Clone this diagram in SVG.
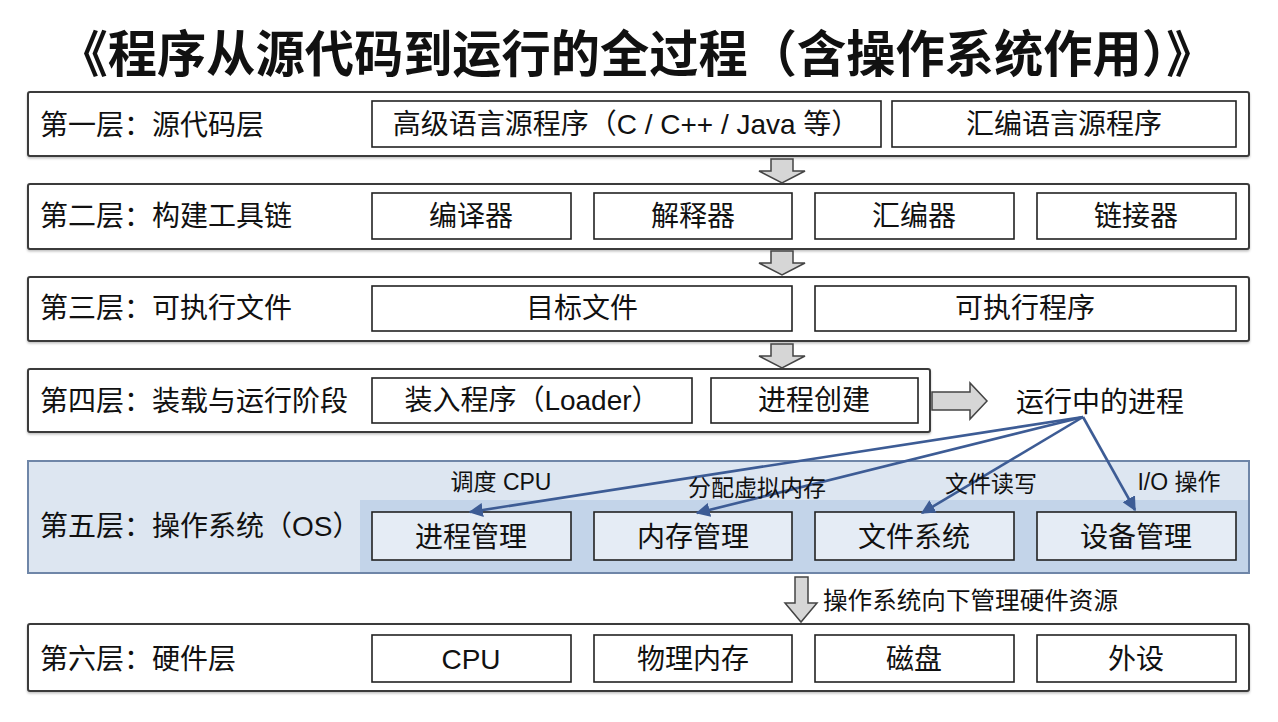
<svg xmlns="http://www.w3.org/2000/svg" width="1278" height="722" viewBox="0 0 1278 722">
<defs>
<style>
text{font-family:"Liberation Sans","Noto Sans CJK SC",sans-serif;fill:#111;dominant-baseline:central}
.title{font-size:50px;font-weight:bold;text-anchor:middle}
.lbl{font-size:28px}
.box{font-size:28px;text-anchor:middle}
.sm{font-size:23px;text-anchor:middle}
.layer{fill:#fff;stroke:#3a3a3a;stroke-width:2}
.ib{fill:#fff;stroke:#222;stroke-width:1.6}
.osb{fill:#e5ecf5;stroke:#222;stroke-width:1.6}
.blk{fill:#d6d6d6;stroke:#444;stroke-width:1.5;stroke-linejoin:miter}
.conn{fill:none;stroke:#3d5c95;stroke-width:2.6}
</style>
<marker id="ah" viewBox="0 0 10 10" refX="9" refY="5" markerWidth="5.5" markerHeight="5.5" orient="auto" markerUnits="strokeWidth">
<path d="M0,0 L10,5 L0,10 Z" fill="#3d5c95"/>
</marker>
<filter id="sh" x="-2%" y="-10%" width="104%" height="130%">
<feDropShadow dx="0" dy="1.5" stdDeviation="1.2" flood-color="#000" flood-opacity="0.25"/>
</filter>
</defs>
<rect width="1278" height="722" fill="#fff"/>
<text class="title" x="637" y="55" textLength="1157" lengthAdjust="spacingAndGlyphs">《程序从源代码到运行的全过程（含操作系统作用）》</text>

<g id="layer1">
<rect class="layer" x="28" y="92" width="1221" height="64" rx="2" filter="url(#sh)"/>
<text class="lbl" x="40" y="125">第一层：源代码层</text>
<g id="hll"><rect class="ib" x="372" y="101" width="509" height="46"/><text class="box" x="626" y="124">高级语言源程序（C / C++ / Java 等）</text></g>
<g id="asm"><rect class="ib" x="892" y="101" width="344" height="46"/><text class="box" x="1064" y="124">汇编语言源程序</text></g>
</g>

<g id="layer2">
<rect class="layer" x="28" y="184" width="1221" height="65" rx="2" filter="url(#sh)"/>
<text class="lbl" x="40" y="216">第二层：构建工具链</text>
<g id="compiler"><rect class="ib" x="372" y="193" width="199" height="46"/><text class="box" x="471" y="216">编译器</text></g>
<g id="interpreter"><rect class="ib" x="594" y="193" width="198" height="46"/><text class="box" x="693" y="216">解释器</text></g>
<g id="assembler"><rect class="ib" x="815" y="193" width="199" height="46"/><text class="box" x="914" y="216">汇编器</text></g>
<g id="linker"><rect class="ib" x="1037" y="193" width="199" height="46"/><text class="box" x="1136" y="216">链接器</text></g>
</g>

<g id="layer3">
<rect class="layer" x="28" y="277" width="1221" height="64" rx="2" filter="url(#sh)"/>
<text class="lbl" x="40" y="308">第三层：可执行文件</text>
<g id="obj"><rect class="ib" x="372" y="286" width="420" height="45"/><text class="box" x="582" y="308">目标文件</text></g>
<g id="exe"><rect class="ib" x="815" y="286" width="421" height="45"/><text class="box" x="1025" y="308">可执行程序</text></g>
</g>

<g id="layer4">
<rect class="layer" x="28" y="369" width="902" height="63" rx="2" filter="url(#sh)"/>
<text class="lbl" x="40" y="401">第四层：装载与运行阶段</text>
<g id="loader"><rect class="ib" x="372" y="378" width="320" height="45"/><text class="box" x="532" y="400">装入程序（Loader）</text></g>
<g id="create"><rect class="ib" x="711" y="378" width="207" height="45"/><text class="box" x="814" y="400">进程创建</text></g>
</g>

<g id="running">
<text class="box" x="1100" y="402">运行中的进程</text>
</g>

<g id="layer5">
<rect x="28" y="461" width="1221" height="112" fill="#dde6f1" stroke="#6f86a8" stroke-width="2"/>
<rect x="360" y="500" width="888" height="72" fill="#c3d4e9"/>
<text class="lbl" x="40" y="526">第五层：操作系统（OS）</text>
<g id="pm"><rect class="osb" x="372" y="512" width="199" height="48"/><text class="box" x="471" y="537">进程管理</text></g>
<g id="mm"><rect class="osb" x="594" y="512" width="198" height="48"/><text class="box" x="693" y="537">内存管理</text></g>
<g id="fs"><rect class="osb" x="815" y="512" width="199" height="48"/><text class="box" x="914" y="537">文件系统</text></g>
<g id="dm"><rect class="osb" x="1037" y="512" width="199" height="48"/><text class="box" x="1136" y="537">设备管理</text></g>
</g>

<g id="layer6">
<rect class="layer" x="28" y="624" width="1221" height="67" rx="2" filter="url(#sh)"/>
<text class="lbl" x="40" y="659">第六层：硬件层</text>
<g id="cpu"><rect class="ib" x="372" y="635" width="199" height="47"/><text class="box" x="471" y="659">CPU</text></g>
<g id="ram"><rect class="ib" x="594" y="635" width="198" height="47"/><text class="box" x="693" y="659">物理内存</text></g>
<g id="disk"><rect class="ib" x="815" y="635" width="199" height="47"/><text class="box" x="914" y="659">磁盘</text></g>
<g id="dev"><rect class="ib" x="1037" y="635" width="199" height="47"/><text class="box" x="1136" y="659">外设</text></g>
</g>

<g id="connectors">
<path class="blk" d="M771,159 H793 V171 H805 L782,183 L759,171 H771 Z"/>
<path class="blk" d="M771,251 H793 V263 H805 L782,275 L759,263 H771 Z"/>
<path class="blk" d="M771,344 H793 V356 H805 L782,368 L759,356 H771 Z"/>
<path class="blk" d="M932,392 H970 V383 L987,401 L970,419 V410 H932 Z"/>
<path class="blk" d="M795,577 H808 V603 H817 L801,622 L785,603 H795 Z"/>
<line class="conn" x1="1083" y1="417" x2="470" y2="512" marker-end="url(#ah)"/>
<line class="conn" x1="1083" y1="417" x2="697" y2="513" marker-end="url(#ah)"/>
<line class="conn" x1="1083" y1="417" x2="922" y2="513" marker-end="url(#ah)"/>
<line class="conn" x1="1083" y1="417" x2="1135" y2="510" marker-end="url(#ah)"/>
<text class="sm" x="501" y="482">调度 CPU</text>
<text class="sm" x="757" y="488">分配虚拟内存</text>
<text class="sm" x="991" y="484">文件读写</text>
<text class="sm" x="1179" y="482">I/O 操作</text>
<text x="823" y="600" style="font-size:24px" textLength="295" lengthAdjust="spacingAndGlyphs">操作系统向下管理硬件资源</text>
</g>
</svg>
